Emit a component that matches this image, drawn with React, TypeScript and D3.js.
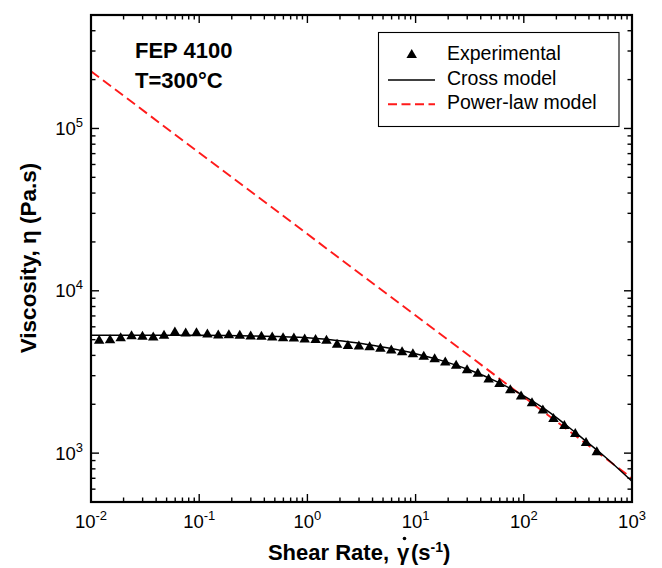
import React from "react";
import * as d3 from "d3";

// ---- data ----
const shearRates = [
  0.0119, 0.0150, 0.0188, 0.0237, 0.0299, 0.0376, 0.0473, 0.0596, 0.0750, 0.0944,
  0.119, 0.150, 0.188, 0.237, 0.299, 0.376, 0.473, 0.596, 0.750, 0.944,
  1.19, 1.50, 1.88, 2.37, 2.99, 3.76, 4.73, 5.96, 7.50, 9.44,
  11.9, 15.0, 18.8, 23.7, 29.9, 37.6, 47.3, 59.6, 75.0, 94.4,
  119, 150, 188, 237, 299, 376, 473,
];
const viscosities = [
  5030, 5070, 5210, 5360, 5320, 5270, 5400, 5650, 5570, 5600,
  5500, 5420, 5440, 5400, 5340, 5320, 5270, 5210, 5190, 5120,
  5090, 5030, 4750, 4670, 4640, 4590, 4490, 4380, 4280, 4160,
  4010, 3870, 3690, 3530, 3310, 3150, 2900, 2720, 2490, 2280,
  2070, 1870, 1660, 1500, 1340, 1180, 1035,
];
const crossRates = [0.01, 0.0316, 0.1, 0.316, 1, 1.78, 3.16, 5.62, 10, 17.8, 31.6, 56.2, 100, 178, 316, 562, 1000];
const crossVisc = [5330, 5330, 5320, 5260, 5130, 4960, 4740, 4440, 4100, 3700, 3250, 2760, 2250, 1760, 1300, 950, 670];
const powerRates = [0.01, 1000];
const powerVisc = [225000, 700];

const xTickExps = [-2, -1, 0, 1, 2, 3];
const yTickExps = [3, 4, 5];
const legendLabels = ["Experimental", "Cross model", "Power-law model"];
const annotation = ["FEP 4100", "T=300°C"];

// ---- layout ----
const W = 662, H = 568;
const L = 91, R = 632, T = 15, B = 502;
const FONT = "'Liberation Sans', Arial, Helvetica, sans-serif";
const RED = "#ff1a1a";

const x = d3.scaleLog().domain([0.01, 1000]).range([L, R]);
const y = d3.scaleLog().domain([500, 500000]).range([B, T]);

// triangle centred on its bounding box
const triType = (w: number, h: number) => ({
  draw(ctx: any) {
    ctx.moveTo(0, -h / 2);
    ctx.lineTo(w / 2, h / 2);
    ctx.lineTo(-w / 2, h / 2);
    ctx.closePath();
  },
});
const triPath = d3.symbol().type(triType(10.5, 9) as any)()!;

export default function App() {
  const xt = x.ticks();
  const yt = y.ticks();
  const isMajor = (v: number) => Math.abs(Math.log10(v) - Math.round(Math.log10(v))) < 1e-9;

  const crossPts = crossRates.map((r, i) => [x(r), y(crossVisc[i])] as [number, number]);
  const crossPath = d3.line().curve(d3.curveMonotoneX)(crossPts)!;
  const powerPts = powerRates.map((r, i) => [x(r), y(powerVisc[i])] as [number, number]);
  const powerPath = d3.line()(powerPts)!;

  return (
    <svg width={W} height={H} style={{ position: "absolute", left: 0, top: 0 }} fontFamily={FONT}>
      <rect x={0} y={0} width={W} height={H} fill="#fff" />
      <defs>
        <clipPath id="plotclip">
          <rect x={L} y={T} width={R - L} height={B - T} />
        </clipPath>
      </defs>

      {/* ticks */}
      <g stroke="#000" strokeWidth={1.4}>
        {xt.map((v, i) => {
          const len = isMajor(v) ? 8 : 4.5;
          const px = x(v);
          return (
            <g key={"xt" + i}>
              <line x1={px} x2={px} y1={B} y2={B - len} />
              <line x1={px} x2={px} y1={T} y2={T + len} />
            </g>
          );
        })}
        {yt.map((v, i) => {
          const len = isMajor(v) ? 8 : 4.5;
          const py = y(v);
          return (
            <g key={"yt" + i}>
              <line x1={L} x2={L + len} y1={py} y2={py} />
              <line x1={R} x2={R - len} y1={py} y2={py} />
            </g>
          );
        })}
      </g>

      {/* lines */}
      <g clipPath="url(#plotclip)">
        <path d={powerPath} fill="none" stroke={RED} strokeWidth={1.9} strokeDasharray="10,5" />
        <path d={crossPath} fill="none" stroke="#000" strokeWidth={1.5} />
        {shearRates.map((r, i) => (
          <path key={"p" + i} d={triPath} transform={`translate(${x(r)},${y(viscosities[i])})`} fill="#000" />
        ))}
      </g>

      {/* frame */}
      <rect x={L} y={T} width={R - L} height={B - T} fill="none" stroke="#000" strokeWidth={2.2} />

      {/* x tick labels */}
      {xTickExps.map((e) => (
        <text key={"xl" + e} x={x(Math.pow(10, e))} y={528} textAnchor="middle" fontSize={18.5} fill="#000">
          10<tspan dy={-8} fontSize={13}>{String(e)}</tspan>
        </text>
      ))}
      {/* y tick labels */}
      {yTickExps.map((e) => (
        <text key={"yl" + e} x={83} y={y(Math.pow(10, e)) + 6.5} textAnchor="end" fontSize={18.5} fill="#000">
          10<tspan dy={-8} fontSize={13}>{String(e)}</tspan>
        </text>
      ))}

      {/* axis titles */}
      <g fontSize={22} fontWeight="bold" fill="#000">
        <text x={389} y={560} textAnchor="end">Shear Rate,</text>
        <text x={403} y={560} textAnchor="middle">{"\u03B3"}</text>
        <text x={411} y={560} textAnchor="start">
          (s<tspan dy={-8} fontSize={14}>-1</tspan><tspan dy={8}>)</tspan>
        </text>
      </g>
      <circle cx={404.5} cy={538.5} r={1.8} fill="#000" />
      <text
        transform={`translate(36,258) rotate(-90)`}
        textAnchor="middle"
        fontSize={22.5}
        fontWeight="bold"
        fill="#000"
      >
        Viscosity, {"\u03B7"} (Pa.s)
      </text>

      {/* annotation */}
      {annotation.map((t, i) => (
        <text key={"an" + i} x={135} y={57.7 + i * 30} fontSize={22} fontWeight="bold" fill="#000">
          {t}
        </text>
      ))}

      {/* legend */}
      <rect x={378.5} y={32.5} width={240.5} height={94} fill="#fff" stroke="#000" strokeWidth={1.1} />
      <path d={triPath} transform="translate(411.7,53.5)" fill="#000" />
      <line x1={388} x2={435} y1={80} y2={80} stroke="#000" strokeWidth={1.5} />
      <line x1={388} x2={435} y1={104.3} y2={104.3} stroke={RED} strokeWidth={1.9} strokeDasharray="9,4.5" />
      {legendLabels.map((t, i) => (
        <text key={"lg" + i} x={447} y={60 + i * 24.6} fontSize={19.5} fill="#000">
          {t}
        </text>
      ))}
    </svg>
  );
}
